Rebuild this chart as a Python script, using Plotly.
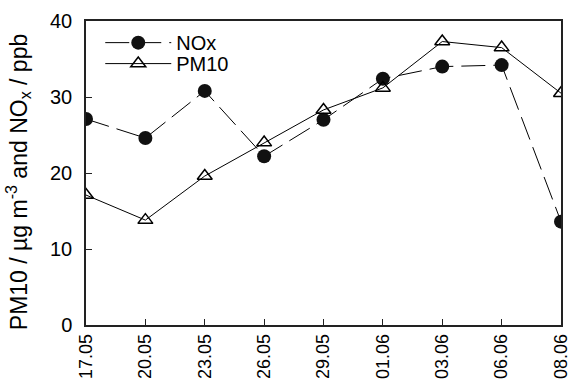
import plotly.graph_objects as go

dates = ["17.05", "20.05", "23.05", "26.05", "29.05", "01.06", "03.06", "06.06", "08.06"]
nox = [27.1, 24.6, 30.8, 22.2, 27.0, 32.4, 34.0, 34.2, 13.6]
pm10 = [17.1, 13.8, 19.6, 24.0, 28.3, 31.2, 37.3, 36.5, 30.5]

fig = go.Figure()
fig.add_trace(go.Scatter(
    x=dates, y=nox, name="NOx", mode="lines+markers", legend="legend",
    line=dict(color="black", width=1, dash="24px,8px"),
    marker=dict(symbol="circle", size=14, color="#111111"),
))
fig.add_trace(go.Scatter(
    x=dates, y=pm10, name="PM10", mode="lines+markers", legend="legend2",
    line=dict(color="black", width=1),
    marker=dict(symbol="triangle-up-open", size=13, color="black", line=dict(width=1.5)),
))

font = "Liberation Sans, Arial, sans-serif"
leg = dict(xanchor="left", yanchor="top", bgcolor="rgba(0,0,0,0)",
           font=dict(size=20, family=font), itemwidth=66)
fig.update_layout(
    width=569, height=388,
    margin=dict(l=86, r=8, t=21, b=63, autoexpand=False),
    plot_bgcolor="white", paper_bgcolor="white",
    font=dict(family=font, color="black"),
    showlegend=True,
    legend=dict(x=0.03, y=0.993, **leg),
    legend2=dict(x=0.03, y=0.924, **leg),
    annotations=[dict(
        text="PM10 / µg m<sup>-3</sup> and NO<sub>x</sub> / ppb",
        textangle=-90, xref="paper", yref="paper", x=-0.143, y=0.47,
        xanchor="center", yanchor="middle", showarrow=False,
        font=dict(size=23, family=font),
    )],
)
fig.update_xaxes(
    type="category", range=[0, 8], showgrid=False, zeroline=False, automargin=False,
    showline=True, linecolor="#222", linewidth=1.5, mirror=True,
    ticks="inside", ticklen=6, tickcolor="#222",
    tickangle=-90, tickfont=dict(size=18, family=font),
)
fig.update_yaxes(
    range=[0, 40], tickvals=[0, 10, 20, 30, 40], showgrid=False, zeroline=False, automargin=False,
    showline=True, linecolor="#222", linewidth=1.5, mirror=True,
    ticks="inside", ticklen=6, tickcolor="#222",
    tickfont=dict(size=20, family=font), ticklabelstandoff=8,
)
fig.write_html("out.html", config={"displayModeBar": False},
               post_script="document.body.style.margin='0';")
